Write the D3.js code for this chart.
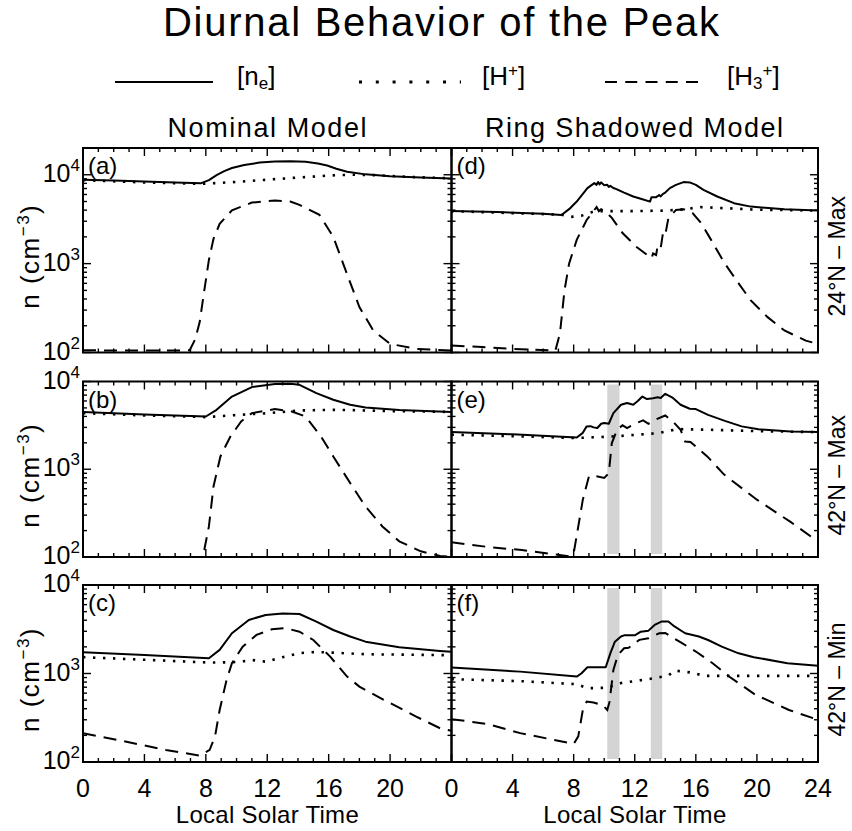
<!DOCTYPE html>
<html>
<head>
<meta charset="utf-8">
<script src="https://cdn.jsdelivr.net/npm/d3@7"></script>
<style>
  body { margin: 0; background: #fff; }
  svg text { font-family: "Liberation Sans", Arial, sans-serif; fill: #000; }
</style>
</head>
<body>
<div id="viz"></div>
<script>
// Values: local solar time (h) and density (cm^-3)
// (a) nominal, 24N max
const aNeT = [0, 2, 4, 6, 7.7, 8.2, 8.7, 9.2, 9.7, 10.5, 11.5, 12.5, 13.5, 14.5, 15.3, 15.9, 16.5, 17.2, 18.4, 20, 22, 24];
const aNe = [8800, 8600, 8400, 8200, 8050, 8700, 9900, 11000, 11900, 12900, 13700, 14100, 14200, 14000, 13400, 12700, 11700, 10800, 10100, 9650, 9300, 9100];
const aHpT = [0, 4, 7.7, 10, 12, 14, 16, 17.5, 19, 21, 24];
const aHp = [8700, 8200, 7900, 8300, 8800, 9300, 9800, 10000, 9900, 9500, 9100];
const aH3T = [0, 3, 6, 6.95, 7.3, 7.6, 7.9, 8.2, 8.5, 8.9, 9.7, 11, 12.5, 13.5, 14.1, 15.4, 16.3, 17.1, 18, 18.9, 20, 21.7, 24];
const aH3 = [106, 105, 105, 106, 140, 220, 500, 1100, 1900, 2800, 3980, 4860, 5140, 5000, 4580, 3540, 2000, 845, 325, 177, 125, 110, 105];

// (b) nominal, 42N max
const bNeT = [0, 4, 8.0, 8.7, 9.7, 11, 12.5, 13.5, 14.1, 15.2, 16.3, 17.4, 18.4, 20.6, 24];
const bNe = [4480, 4200, 3990, 4760, 6740, 8630, 9340, 9400, 9170, 7370, 6190, 5430, 5060, 4720, 4500];
const bHpT = [0, 4, 8.0, 10, 12.1, 14.1, 16.3, 18, 20, 24];
const bHp = [4360, 4100, 3930, 4150, 4360, 4680, 4750, 4700, 4600, 4500];
const bH3T = [0, 4, 7.5, 7.9, 8.2, 8.5, 8.95, 9.6, 10.3, 11, 12.5, 13.6, 14.5, 15.5, 16.3, 17.4, 18.4, 19.5, 20.6, 22, 23.25, 24];
const bH3 = [90, 90, 95, 121, 223, 636, 1400, 2360, 3510, 4360, 4850, 4550, 3990, 2360, 1400, 696, 376, 223, 151, 116, 103, 100];

// (c) nominal, 42N min
const cNeT = [0, 4, 8.2, 8.9, 9.7, 10.8, 11.9, 13, 14.1, 15.2, 16.3, 17.4, 18.4, 20.6, 23.25, 24];
const cNe = [1740, 1620, 1490, 1850, 2850, 4030, 4590, 4750, 4700, 3860, 3100, 2620, 2290, 1980, 1800, 1760];
const cHpT = [0, 4, 8.2, 9.7, 10.5, 11, 11.9, 13, 14.1, 15.2, 16.3, 18.4, 24];
const cHp = [1530, 1430, 1330, 1340, 1380, 1420, 1360, 1530, 1700, 1750, 1720, 1650, 1610];
const cH3T = [0, 2.2, 5.4, 7.6, 8.25, 8.6, 8.9, 9.35, 9.7, 10.4, 11.3, 12.3, 13.2, 14.1, 15, 16.1, 17.2, 18, 19.6, 21.7, 23.25, 24];
const cH3 = [212, 178, 137, 118, 137, 195, 387, 847, 1306, 2010, 2730, 3160, 3250, 2970, 2390, 1550, 923, 711, 503, 326, 241, 225];

// (d) ring shadowed, 24N max
const dNeT = [0, 3, 6, 7.2, 7.7, 8.2, 8.9, 9.35, 9.5, 9.6, 9.7, 9.8, 9.9, 10.0, 10.2, 10.3, 10.4, 10.6, 10.8, 11.3, 11.9, 12.5, 13.0, 13.1, 13.4, 13.6, 13.7, 13.85, 14.0, 14.3, 14.7, 15.2, 15.6, 16.0, 16.5, 17.4, 18.5, 19.6, 21.8, 24];
const dNe = [3920, 3800, 3650, 3530, 4100, 4990, 7070, 8050, 7700, 8300, 7800, 8200, 7900, 7600, 7700, 7300, 7500, 7100, 6900, 6300, 5690, 5300, 4990, 5600, 5600, 5900, 5700, 6100, 6300, 7070, 7700, 8270, 8200, 7700, 6770, 5690, 4790, 4380, 4090, 3950];
const dHpT = [0, 3, 7.2, 7.8, 8.5, 9.3, 10, 12, 14, 15, 16.3, 18, 20, 24];
const dHp = [3900, 3750, 3550, 3350, 3450, 3850, 3900, 3900, 3950, 4050, 4320, 4200, 4050, 3950];
const dH3T = [0, 2, 4, 6.8, 7.1, 7.4, 7.7, 8.2, 8.85, 9.5, 9.65, 9.8, 10.1, 10.5, 11.2, 12.1, 13.1, 13.2, 13.4, 13.5, 13.7, 13.85, 14.0, 14.2, 14.7, 15.2, 15.8, 16.35, 17, 17.9, 18.8, 19.6, 20.7, 21.8, 23.2, 24];
const dH3 = [120, 115, 110, 105, 163, 500, 1000, 1850, 3100, 4320, 3900, 4100, 3850, 3270, 2210, 1550, 1150, 1300, 1250, 1600, 1500, 2220, 2100, 3240, 4020, 4100, 3690, 2850, 1850, 1000, 600, 385, 250, 177, 136, 125];

// (e) ring shadowed, 42N max
const eNeT = [0, 4, 8.2, 8.6, 8.85, 9.1, 9.3, 9.55, 9.8, 10.0, 10.3, 10.6, 11.1, 11.5, 11.9, 12.2, 12.5, 12.8, 13.2, 13.5, 13.7, 14.0, 14.5, 15.0, 15.6, 16.0, 16.8, 17.9, 19, 20.1, 22.2, 24];
const eNe = [2650, 2500, 2300, 2600, 3080, 3100, 3000, 2950, 3300, 3360, 3300, 4360, 5430, 5700, 5430, 6000, 6740, 6300, 6450, 6600, 6500, 7240, 6500, 5430, 4890, 4850, 4170, 3560, 3080, 2850, 2700, 2650];
const eHpT = [0, 4, 8.2, 10.7, 13.5, 14.8, 16.8, 20, 24];
const eHp = [2480, 2380, 2270, 2370, 2580, 2870, 2820, 2720, 2650];
const eH3T = [0, 2.4, 4.6, 7.7, 8.0, 8.3, 8.6, 9.0, 9.2, 9.5, 10.0, 10.3, 10.5, 10.85, 11.2, 11.5, 12.0, 12.55, 12.9, 13.4, 14.0, 14.5, 15.0, 15.3, 15.65, 16.75, 17.85, 20.0, 22.2, 24];
const eH3 = [147, 130, 120, 102, 110, 222, 450, 828, 850, 830, 795, 900, 1990, 2820, 3170, 2950, 3300, 3600, 3300, 3700, 4100, 3500, 2820, 2070, 2050, 1400, 870, 450, 251, 150];

// (f) ring shadowed, 42N min
const fNeT = [0, 4.5, 8.2, 8.5, 8.9, 9.6, 10.1, 10.4, 10.7, 11.1, 11.3, 12, 12.4, 12.9, 13.3, 13.75, 14.2, 14.6, 15.3, 16.2, 16.8, 17.7, 18.8, 19.8, 22, 24];
const fNe = [1166, 1050, 923, 1000, 1175, 1175, 1175, 1690, 2290, 2620, 2700, 2700, 2970, 3050, 3540, 3860, 3860, 3400, 2850, 2620, 2390, 2010, 1690, 1530, 1306, 1220];
const fHpT = [0, 4.5, 8.2, 8.9, 10.2, 11.1, 13.3, 14.2, 14.6, 15.6, 16.6, 19.8, 24];
const fHp = [863, 820, 757, 682, 690, 780, 885, 950, 1080, 1030, 940, 940, 940];
const fH3T = [0, 2.3, 4.5, 6.7, 8.0, 8.3, 8.6, 8.85, 9.3, 9.9, 10.2, 10.35, 10.6, 10.9, 11.3, 11.6, 12.3, 12.9, 13.6, 14.0, 14.4, 15.1, 16.0, 17.1, 18.2, 19.9, 22.1, 24];
const fH3 = [305, 270, 212, 178, 160, 195, 387, 482, 470, 440, 387, 480, 1100, 1620, 1930, 1950, 2400, 2500, 2850, 2870, 2600, 2200, 1770, 1306, 920, 575, 387, 300];

// ring shadow crossings (grey bands in e, f)
const shadowBands = [[10.2, 11.0], [13.05, 13.8]];

const xTickValues = [0, 4, 8, 12, 16, 20, 24];
const yTickExps = [2, 3, 4];
const yTops = [20000, 10000, 10000];
const colTitles = ["Nominal Model", "Ring Shadowed Model"];
const rowTitles = ["24°N – Max", "42°N – Max", "42°N – Min"];

const w = 852;
const h = 831;

const svg = d3.select('#viz').
append('svg').
attr('width', w).
attr('height', h);

// panel boxes (pixels)
const cols = [[83, 451.5], [451.5, 818]];
const rows = [[148, 352.5], [381.5, 557], [585, 762]];

const panels = [
  { name: "(a)", col: 0, row: 0, ne: [aNeT, aNe], hp: [aHpT, aHp], h3: [aH3T, aH3], bands: false },
  { name: "(b)", col: 0, row: 1, ne: [bNeT, bNe], hp: [bHpT, bHp], h3: [bH3T, bH3], bands: false },
  { name: "(c)", col: 0, row: 2, ne: [cNeT, cNe], hp: [cHpT, cHp], h3: [cH3T, cH3], bands: false },
  { name: "(d)", col: 1, row: 0, ne: [dNeT, dNe], hp: [dHpT, dHp], h3: [dH3T, dH3], bands: false },
  { name: "(e)", col: 1, row: 1, ne: [eNeT, eNe], hp: [eHpT, eHp], h3: [eH3T, eH3], bands: true },
  { name: "(f)", col: 1, row: 2, ne: [fNeT, fNe], hp: [fHpT, fHp], h3: [fH3T, fH3], bands: true }
];

const dotted = "2.4,7.6";
const dashed = "13,8";

//Title
svg.append('text').
attr('x', 441).
attr('y', 36).
attr('text-anchor', 'middle').
attr('textLength', 556).
style('font-size', '40px').
text("Diurnal Behavior of the Peak");

//Legend row
const legY = 82;
svg.append('line').attr('x1', 115).attr('x2', 213).attr('y1', legY).attr('y2', legY).
attr('stroke', '#000').attr('stroke-width', 2);
svg.append('line').attr('x1', 359).attr('x2', 461).attr('y1', legY).attr('y2', legY).
attr('stroke', '#000').attr('stroke-width', 3).attr('stroke-dasharray', '3,13.8');
svg.append('line').attr('x1', 605).attr('x2', 698).attr('y1', legY).attr('y2', legY).
attr('stroke', '#000').attr('stroke-width', 2).attr('stroke-dasharray', '12,8.25');

const leg1 = svg.append('text').attr('x', 237).attr('y', 85).style('font-size', '26px');
leg1.append('tspan').text('[n');
leg1.append('tspan').attr('dy', 4).style('font-size', '17px').text('e');
leg1.append('tspan').attr('dy', -4).text(']');

const leg2 = svg.append('text').attr('x', 482).attr('y', 85).style('font-size', '26px');
leg2.append('tspan').text('[H');
leg2.append('tspan').attr('dy', -9).style('font-size', '17px').text('+');
leg2.append('tspan').attr('dy', 9).text(']');

const leg3 = svg.append('text').attr('x', 727).attr('y', 85).style('font-size', '26px');
leg3.append('tspan').text('[H');
leg3.append('tspan').attr('dy', 4).style('font-size', '17px').text('3');
leg3.append('tspan').attr('dy', -13).style('font-size', '17px').text('+');
leg3.append('tspan').attr('dy', 9).text(']');

//Column titles
svg.append('text').attr('x', 267).attr('y', 137).attr('text-anchor', 'middle').
attr('textLength', 199).style('font-size', '27px').text(colTitles[0]);
svg.append('text').attr('x', 634).attr('y', 137).attr('text-anchor', 'middle').
attr('textLength', 298).style('font-size', '27px').text(colTitles[1]);

panels.forEach((p, i) => {
  const [x0, x1] = cols[p.col];
  const [y0, y1] = rows[p.row];

  const x = d3.scaleLinear().domain([0, 24]).range([x0, x1]);
  const y = d3.scaleLog().domain([100, yTops[p.row]]).range([y1, y0]);

  const g = svg.append('g');

  g.append('clipPath').attr('id', 'clip' + i).
  append('rect').attr('x', x0).attr('y', y0).attr('width', x1 - x0).attr('height', y1 - y0);

  const plot = g.append('g').attr('clip-path', 'url(#clip' + i + ')');

  if (p.bands) {
    plot.selectAll('rect.band').
    data(shadowBands).
    enter().
    append('rect').
    attr('class', 'band').
    attr('x', d => x(d[0])).
    attr('width', d => x(d[1]) - x(d[0])).
    attr('y', y0 + 3).
    attr('height', y1 - y0 - 6).
    attr('fill', '#d4d4d4');
  }

  const line = d3.line().
  x(d => x(d[0])).
  y(d => y(d[1]));

  plot.append('path').datum(d3.zip(p.h3[0], p.h3[1])).
  attr('d', line).attr('fill', 'none').attr('stroke', '#000').
  attr('stroke-width', 2).attr('stroke-dasharray', dashed);

  plot.append('path').datum(d3.zip(p.hp[0], p.hp[1])).
  attr('d', line).attr('fill', 'none').attr('stroke', '#000').
  attr('stroke-width', 2.6).attr('stroke-dasharray', dotted);

  plot.append('path').datum(d3.zip(p.ne[0], p.ne[1])).
  attr('d', line).attr('fill', 'none').attr('stroke', '#000').
  attr('stroke-width', 2).attr('stroke-linejoin', 'round');

  //x ticks, inward, top and bottom
  x.ticks(24).forEach(t => {
    const len = t % 4 === 0 ? 8 : 4;
    g.append('line').attr('x1', x(t)).attr('x2', x(t)).attr('y1', y1).attr('y2', y1 - len).
    attr('stroke', '#000').attr('stroke-width', 1.4);
    g.append('line').attr('x1', x(t)).attr('x2', x(t)).attr('y1', y0).attr('y2', y0 + len).
    attr('stroke', '#000').attr('stroke-width', 1.4);
  });

  //y ticks (log), inward, left and right
  y.ticks().forEach(v => {
    const major = Math.abs(Math.log10(v) - Math.round(Math.log10(v))) < 1e-6;
    const len = major ? 8 : 4;
    g.append('line').attr('x1', x0).attr('x2', x0 + len).attr('y1', y(v)).attr('y2', y(v)).
    attr('stroke', '#000').attr('stroke-width', 1.4);
    g.append('line').attr('x1', x1).attr('x2', x1 - len).attr('y1', y(v)).attr('y2', y(v)).
    attr('stroke', '#000').attr('stroke-width', 1.4);
  });

  g.append('rect').
  attr('x', x0).attr('y', y0).
  attr('width', x1 - x0).attr('height', y1 - y0).
  attr('fill', 'none').attr('stroke', '#000').attr('stroke-width', 2);

  g.append('text').
  attr('x', x0 + 5).
  attr('y', y0 + 26).
  style('font-size', '24px').
  text(p.name);

  if (p.col === 0) {
    yTickExps.forEach(e => {
      const lab = g.append('text').
      attr('x', 80).
      attr('y', y(Math.pow(10, e)) + 7).
      attr('text-anchor', 'end').
      style('font-size', '25px');
      lab.append('tspan').text('10');
      lab.append('tspan').attr('dy', -11).style('font-size', '17px').text(e);
    });

    const ylab = g.append('text').
    attr('transform', 'translate(39,' + ((y0 + y1) / 2 + 6) + ') rotate(-90)').
    attr('text-anchor', 'middle').
    style('font-size', '26px').
    style('letter-spacing', '1.5px');
    ylab.append('tspan').text('n (cm');
    ylab.append('tspan').attr('dy', -10).style('font-size', '17px').text('−3');
    ylab.append('tspan').attr('dy', 10).text(')');
  } else {
    g.append('text').
    attr('transform', 'translate(845,' + ((y0 + y1) / 2 + 6) + ') rotate(-90)').
    attr('text-anchor', 'middle').
    style('font-size', '23px').
    text(rowTitles[p.row]);
  }

  if (p.row === 2) {
    xTickValues.forEach(t => {
      if (p.col === 0 && t === 24) return;
      g.append('text').
      attr('x', x(t)).
      attr('y', 797).
      attr('text-anchor', 'middle').
      style('font-size', '25px').
      text(t);
    });
    g.append('text').
    attr('x', (x0 + x1) / 2).
    attr('y', 823).
    attr('text-anchor', 'middle').
    attr('textLength', 183).
    style('font-size', '24px').
    text("Local Solar Time");
  }
});
</script>
</body>
</html>
